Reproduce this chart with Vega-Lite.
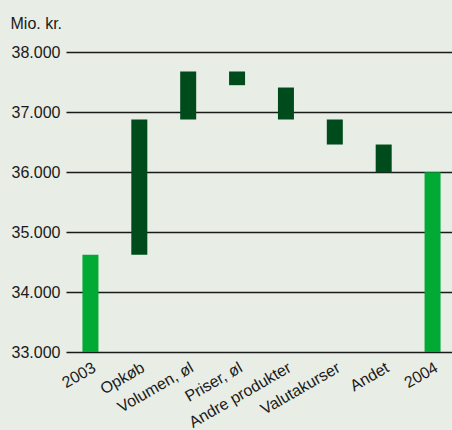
{
  "$schema": "https://vega.github.io/schema/vega-lite/v6.json",
  "width": 386,
  "height": 300,
  "autosize": {"type": "none"},
  "padding": {"left": 66, "top": 52, "right": 0, "bottom": 78},
  "background": "#e8ede6",
  "config": {
    "view": {"stroke": null},
    "font": "Liberation Sans"
  },
  "data": {
    "values": [
      {"kategori": "2003", "fra": 33000, "til": 34620, "type": "total"},
      {"kategori": "Opkøb", "fra": 34620, "til": 36875, "type": "ændring"},
      {"kategori": "Volumen, øl", "fra": 36875, "til": 37675, "type": "ændring"},
      {"kategori": "Priser, øl", "fra": 37447, "til": 37675, "type": "ændring"},
      {"kategori": "Andre produkter", "fra": 36875, "til": 37408, "type": "ændring"},
      {"kategori": "Valutakurser", "fra": 36458, "til": 36875, "type": "ændring"},
      {"kategori": "Andet", "fra": 35995, "til": 36458, "type": "ændring"},
      {"kategori": "2004", "fra": 33000, "til": 35995, "type": "total"}
    ]
  },
  "mark": {"type": "bar", "size": 16},
  "encoding": {
    "x": {
      "field": "kategori",
      "type": "nominal",
      "sort": null,
      "scale": {"range": [0, 391], "paddingInner": 0, "paddingOuter": 0},
      "axis": {
        "title": null,
        "domain": false,
        "ticks": false,
        "labelAngle": -30,
        "labelAlign": "right",
        "labelBaseline": "top",
        "labelPadding": 7,
        "labelFontSize": 16,
        "labelColor": "#1a1a1a",
        "labelFont": "Liberation Sans",
        "labelOverlap": false
      }
    },
    "y": {
      "field": "fra",
      "type": "quantitative",
      "scale": {"domain": [33000, 38000], "zero": false, "nice": false},
      "axis": {
        "values": [33000, 34000, 35000, 36000, 37000, 38000],
        "labelExpr": "replace(format(datum.value, ','), ',', '.')",
        "domain": false,
        "ticks": false,
        "grid": true,
        "gridColor": "#1a1a1a",
        "gridWidth": 1.5,
        "gridOpacity": 1,
        "labelPadding": 6,
        "labelFontSize": 16,
        "labelColor": "#1a1a1a",
        "labelFont": "Liberation Sans",
        "title": "Mio. kr.",
        "titleAngle": 0,
        "titleAlign": "left",
        "titleBaseline": "alphabetic",
        "titleX": -56,
        "titleY": -24,
        "titleFontSize": 16,
        "titleFontWeight": "normal",
        "titleColor": "#1a1a1a",
        "titleFont": "Liberation Sans"
      }
    },
    "y2": {"field": "til"},
    "color": {
      "field": "type",
      "type": "nominal",
      "scale": {"domain": ["total", "ændring"], "range": ["#00aa35", "#004b1b"]},
      "legend": null
    }
  }
}
